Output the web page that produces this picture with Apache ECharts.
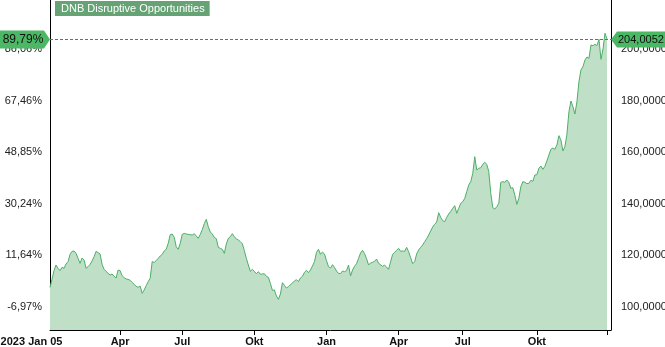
<!DOCTYPE html>
<html><head><meta charset="utf-8">
<script src="https://cdn.jsdelivr.net/npm/echarts@6/dist/echarts.min.js"></script>
<style>html,body{margin:0;padding:0;background:#fff}#c{width:665px;height:347px}</style>
</head><body><div id="c"></div>
<script>
const seriesName = 'DNB Disruptive Opportunities';
const baseValue = 107.49;
const values2023 = [
107.49,110.63,113.99,116.19,114.90,113.99,115.29,114.90,116.58,117.49,
120.34,121.50,121.63,120.72,118.78,116.84,118.91,118.14,114.90,115.55,
116.45,117.75,119.43,121.50,120.98,120.47,116.45,114.51,113.73,112.96,
112.31,112.70,111.79,111.15,114.25,113.99,112.05,111.28,110.76,110.63,
110.24,109.46,108.69,107.91,107.52,108.04,105.19,106.49,108.17,109.72,
111.02,117.49,117.20,117.88,118.78,119.69,120.34,121.63,122.28,124.61,
127.97,128.23,126.94,123.31,122.28,124.61,128.10,128.49,128.23,128.10,
127.97,127.84,128.36,127.46,126.55,128.10,129.92,132.25,133.93,131.08,
129.01,128.23,126.94,126.42,123.06,122.67,122.28,120.72,124.35,126.55,
127.20,128.36,127.20,126.29,125.90,125.26,124.48,121.76,118.78,116.19,
113.73,114.51,113.73,112.83,113.61,112.57,112.70,112.83,111.79,111.40,
109.07,106.36,106.49,104.16,102.86,104.93,109.33,108.30,107.26,107.78,
108.56,109.20,109.98,110.50,109.72,111.15,111.79,113.35,114.12,113.22,
114.25,115.81,117.49,121.11,122.28,120.34,121.24,120.47
];
const values2024 = [
117.88,115.55,115.03,116.32,115.29,113.86,112.96,112.83,113.86,113.61,
113.99,116.19,111.92,114.25,115.68,116.71,118.78,120.85,121.89,120.60,
118.65,116.19,116.97,117.23,117.62,118.52,116.84,116.30,115.68,116.10,
115.40,114.51,117.49,120.34,121.11,121.89,122.67,121.50,121.63,121.50,
123.06,121.37,119.04,116.71,117.49,120.47,122.02,123.06,123.96,125.26,
126.42,127.84,129.40,130.95,131.99,132.89,136.52,134.71,133.41,133.02,
134.71,136.00,137.04,138.20,139.24,136.26,138.20,140.14,140.79,142.08,
144.67,147.26,148.56,151.79,158.27,153.09,153.73,153.99,155.29,156.06,
155.29,152.44,144.03,138.46,137.90,138.85,140.14,148.30,148.56,148.30,
149.20,148.30,145.97,146.23,143.38,139.75,142.08,146.61,148.56,148.30,
147.80,147.91,149.07,148.70,151.15,151.27,153.73,154.64,153.35,154.51,
156.58,158.91,161.11,161.63,161.11,162.80,166.42,164.74,160.47,162.15,
166.94,175.74,179.88,177.68,174.83,179.63,187.39,191.92,193.22,195.81,
196.97,196.45,201.63,201.37,201.89,201.37,203.83,196.06,200.08,206.20,
204.0052
];
const tickIndex = [0, 35, 66, 102, 138, 174, 206, 243, 278];
const tickLabels = ['2023 Jan 05', 'Apr', 'Jul', 'Okt', 'Jan', 'Apr', 'Jul', 'Okt', ''];
const valueTicks = [100, 120, 140, 160, 180, 200];
const categoryCount = 281;

const FONT = 'Liberation Sans, Arial, sans-serif';
const values = values2023.concat(values2024);
const lastValue = values[values.length - 1];
const categories = [];
for (let i = 0; i < categoryCount; i++) {
  const k = tickIndex.indexOf(i);
  categories.push(k >= 0 ? tickLabels[k] : '');
}
const fmtPct = v => ((v / baseValue - 1) * 100).toFixed(2).replace('.', ',') + '%';
const fmtVal = v => v.toFixed(4).replace('.', ',');

const chart = echarts.init(document.getElementById('c'), null, {renderer: 'canvas'});
const yCommon = {
  type: 'value', min: 90.95, max: 219.1,
  axisLine: {show: true, lineStyle: {color: '#000', width: 1}},
  axisTick: {show: false}, splitLine: {show: false}
};
chart.setOption({
  animation: false,
  grid: {left: 50, right: 54, top: 0, bottom: 17, containLabel: false, outerBoundsMode: 'none'},
  legend: {
    left: 55, top: 1, selectedMode: false,
    data: [{name: seriesName, icon: 'none'}],
    itemWidth: 0, itemHeight: 0, itemGap: 0,
    backgroundColor: '#66a374', padding: [2, 5, 2, 1],
    textStyle: {color: '#fff', fontSize: 11, fontFamily: FONT}
  },
  xAxis: {
    type: 'category', data: categories, boundaryGap: false,
    axisLine: {lineStyle: {color: '#000', width: 1}},
    axisTick: {interval: (i) => i > 0 && tickIndex.includes(i), length: 5, lineStyle: {color: '#000'}},
    axisLabel: {
      interval: (i, v) => v !== '',
      margin: 6, color: '#111', fontWeight: 'bold', fontSize: 11, fontFamily: FONT,
      formatter: (v, i) => i === 0 ? '{first|' + v + '}' : v,
      rich: {first: {padding: [0, 37, 0, 0], fontWeight: 'bold', fontSize: 11, color: '#111', fontFamily: FONT}}
    },
    splitLine: {show: false}
  },
  yAxis: [
    Object.assign({}, yCommon, {position: 'right',
      axisLabel: {customValues: valueTicks, formatter: fmtVal, margin: 10, color: '#222', fontSize: 11, fontFamily: FONT}}),
    Object.assign({}, yCommon, {position: 'left',
      axisLabel: {customValues: valueTicks, formatter: fmtPct, margin: 8, color: '#222', fontSize: 11, fontFamily: FONT}})
  ],
  series: [{
    name: seriesName, type: 'line', yAxisIndex: 0, data: values,
    symbol: 'none', showSymbol: false,
    lineStyle: {width: 1, color: '#4caf67'}, itemStyle: {color: '#4caf67'},
    areaStyle: {color: '#bfdfc6', opacity: 1, origin: 'start'}
  }]
});

const y = Math.round(chart.convertToPixel({yAxisIndex: 0}, lastValue)) + 0.5;
const xL = chart.convertToPixel({xAxisIndex: 0}, 0);
const xR = chart.convertToPixel({xAxisIndex: 0}, categoryCount - 1);
const W = chart.getWidth();
chart.setOption({graphic: [
  {type: 'line', z: 90, shape: {x1: xL, y1: y, x2: xR, y2: y}, style: {stroke: '#1f9c45', lineWidth: 1, lineDash: [3, 2]}},
  {type: 'polygon', z: 100, shape: {points: [[0, y - 9], [xL - 6, y - 9], [xL, y], [xL - 6, y + 9], [0, y + 9]]}, style: {fill: '#4cb865'}},
  {type: 'text', z: 101, x: (xL - 6) / 2 + 1, y: y, style: {text: fmtPct(lastValue), fill: '#111', font: '12px ' + FONT, align: 'center', verticalAlign: 'middle'}},
  {type: 'polygon', z: 100, shape: {points: [[xR, y], [xR + 6, y - 8], [W, y - 8], [W, y + 8], [xR + 6, y + 8]]}, style: {fill: '#4cb865'}},
  {type: 'text', z: 101, x: xR + 7, y: y, style: {text: fmtVal(lastValue), fill: '#111', font: '11px ' + FONT, align: 'left', verticalAlign: 'middle'}}
]});
</script>
</body></html>
